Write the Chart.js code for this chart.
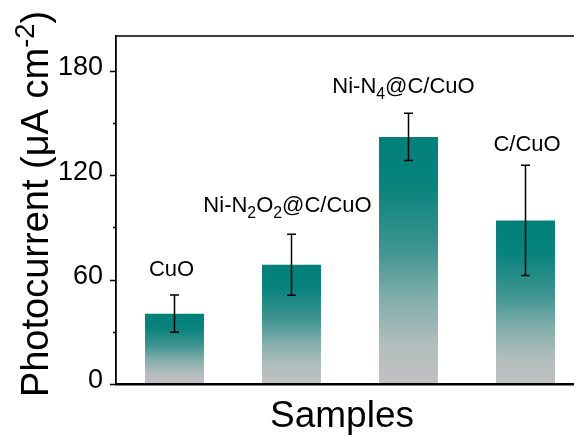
<!DOCTYPE html>
<html lang="en">
<head>
<meta charset="UTF-8">
<title>Photocurrent of samples</title>
<script src="https://cdn.jsdelivr.net/npm/chart.js"></script>
<style>
  html, body { margin: 0; padding: 0; background: #fff; overflow: hidden; }
  #wrap { width: 600px; height: 438px; }
</style>
</head>
<body>
<div id="wrap"><canvas id="photoChart" width="600" height="438"></canvas></div>
<script>
// measured photocurrent (uA cm-2) with error bars
const samples = ['CuO', 'Ni-N2O2@C/CuO', 'Ni-N4@C/CuO', 'C/CuO'];
const photocurrent = [40.4, 68.5, 142.0, 94.0];
const errors = [10.7, 17.5, 13.6, 31.7];
const majorTicks = [0, 60, 120, 180];
const minorTicks = [30, 90, 150];

// sample names split into runs so the subscripts can be set smaller
const labelRuns = [
  [['CuO']],
  [['Ni-N'], ['2', 'sub'], ['O'], ['2', 'sub'], ['@C/CuO']],
  [['Ni-N'], ['4', 'sub'], ['@C/CuO']],
  [['C/CuO']]
];

const FONT = "'Liberation Sans', Arial, sans-serif";

function runsWidth(ctx, runs, size) {
  let w = 0;
  runs.forEach(([t, kind]) => {
    ctx.font = (kind ? size * 0.72 : size) + 'px ' + FONT;
    w += ctx.measureText(t).width;
  });
  return w;
}

function drawRuns(ctx, runs, x, y, size) {
  runs.forEach(([t, kind]) => {
    const s = kind ? size * 0.72 : size;
    ctx.font = s + 'px ' + FONT;
    let dy = 0;
    if (kind === 'sub') dy = size * 0.26;
    if (kind === 'sup') dy = -size * 0.38;
    ctx.fillText(t, x, y + dy);
    x += ctx.measureText(t).width;
  });
}

function barGradient(c) {
  const chart = c.chart;
  if (!chart.chartArea) return '#00807a';
  const y = chart.scales.y;
  const top = y.getPixelForValue(photocurrent[c.dataIndex]);
  const bottom = y.getPixelForValue(0);
  const g = chart.ctx.createLinearGradient(0, top, 0, bottom);
  g.addColorStop(0, '#01807a');
  g.addColorStop(0.2, '#08837d');
  g.addColorStop(0.45, '#3d9490');
  g.addColorStop(0.65, '#80adab');
  g.addColorStop(0.85, '#b3bebd');
  g.addColorStop(1, '#c0c0c0');
  return g;
}

const decorPlugin = {
  id: 'decor',
  afterDatasetsDraw(chart) {
    const ctx = chart.ctx;
    const y = chart.scales.y;
    const bars = chart.getDatasetMeta(0).data;
    // error bars
    ctx.save();
    ctx.strokeStyle = '#000';
    ctx.lineWidth = 1.5;
    bars.forEach((bar, i) => {
      const yt = y.getPixelForValue(photocurrent[i] + errors[i]);
      const yb = y.getPixelForValue(photocurrent[i] - errors[i]);
      ctx.beginPath();
      ctx.moveTo(bar.x, yt); ctx.lineTo(bar.x, yb);
      ctx.moveTo(bar.x - 4.5, yt); ctx.lineTo(bar.x + 4.5, yt);
      ctx.moveTo(bar.x - 4.5, yb); ctx.lineTo(bar.x + 4.5, yb);
      ctx.stroke();
    });
    // sample names above the error bars
    const lift = [19, 22, 20, 14];
    const shift = [-3, -4, -5, 1.5];
    ctx.fillStyle = '#000';
    ctx.textBaseline = 'alphabetic';
    ctx.textAlign = 'left';
    bars.forEach((bar, i) => {
      const w = runsWidth(ctx, labelRuns[i], 22);
      const base = y.getPixelForValue(photocurrent[i] + errors[i]) - lift[i];
      drawRuns(ctx, labelRuns[i], bar.x + shift[i] - w / 2, base, 22);
    });
    ctx.restore();
  },
  afterDraw(chart) {
    const ctx = chart.ctx;
    const a = chart.chartArea;
    const y = chart.scales.y;
    ctx.save();
    ctx.strokeStyle = '#000';
    // top and right frame
    ctx.lineWidth = 1.4;
    ctx.beginPath();
    ctx.moveTo(a.left, a.top); ctx.lineTo(a.right, a.top); ctx.lineTo(a.right, a.bottom);
    ctx.stroke();
    // outward tick marks on the y axis
    ctx.lineWidth = 1.3;
    ctx.beginPath();
    majorTicks.forEach(v => {
      const p = Math.round(y.getPixelForValue(v)) + 0.5;
      ctx.moveTo(a.left - 6, p); ctx.lineTo(a.left, p);
    });
    minorTicks.forEach(v => {
      const p = Math.round(y.getPixelForValue(v)) + 0.5;
      ctx.moveTo(a.left - 3, p); ctx.lineTo(a.left, p);
    });
    ctx.stroke();
    // axis titles
    ctx.fillStyle = '#000';
    ctx.textBaseline = 'alphabetic';
    ctx.textAlign = 'left';
    ctx.font = '37px ' + FONT;
    const sw = ctx.measureText('Samples').width;
    ctx.fillText('Samples', 342 - sw / 2, 427);
    const yTitle = [['Photocurrent (\u03bcA cm'], ['-2', 'sup'], [')']];
    const tw = runsWidth(ctx, yTitle, 38);
    ctx.translate(48, 204);
    ctx.rotate(-Math.PI / 2);
    drawRuns(ctx, yTitle, -tw / 2, 0, 38);
    ctx.restore();
  }
};

new Chart(document.getElementById('photoChart'), {
  type: 'bar',
  data: {
    labels: samples,
    datasets: [{
      data: photocurrent,
      backgroundColor: barGradient,
      borderWidth: 0,
      barPercentage: 0.504,
      categoryPercentage: 1
    }]
  },
  options: {
    responsive: false,
    animation: false,
    devicePixelRatio: 1,
    layout: { padding: { top: 36, right: 16, left: 0, bottom: 0 } },
    plugins: { legend: { display: false }, tooltip: { enabled: false } },
    scales: {
      x: {
        afterFit(scale) { scale.height = 54; },
        grid: { display: false, drawTicks: false },
        border: { display: true, color: '#000', width: 2.5, z: 1 },
        ticks: { display: false }
      },
      y: {
        min: 0,
        max: 200,
        afterFit(scale) { scale.width = 116; },
        grid: { display: false, drawTicks: true, tickLength: 6 },
        border: { display: true, color: '#000', width: 1.8, z: 1 },
        ticks: {
          stepSize: 30,
          autoSkip: false,
          padding: 7,
          labelOffset: -3,
          color: '#000',
          font: { family: FONT, size: 27 },
          callback: v => (majorTicks.includes(v) ? String(v) : '')
        }
      }
    }
  },
  plugins: [decorPlugin]
});
</script>
</body>
</html>
